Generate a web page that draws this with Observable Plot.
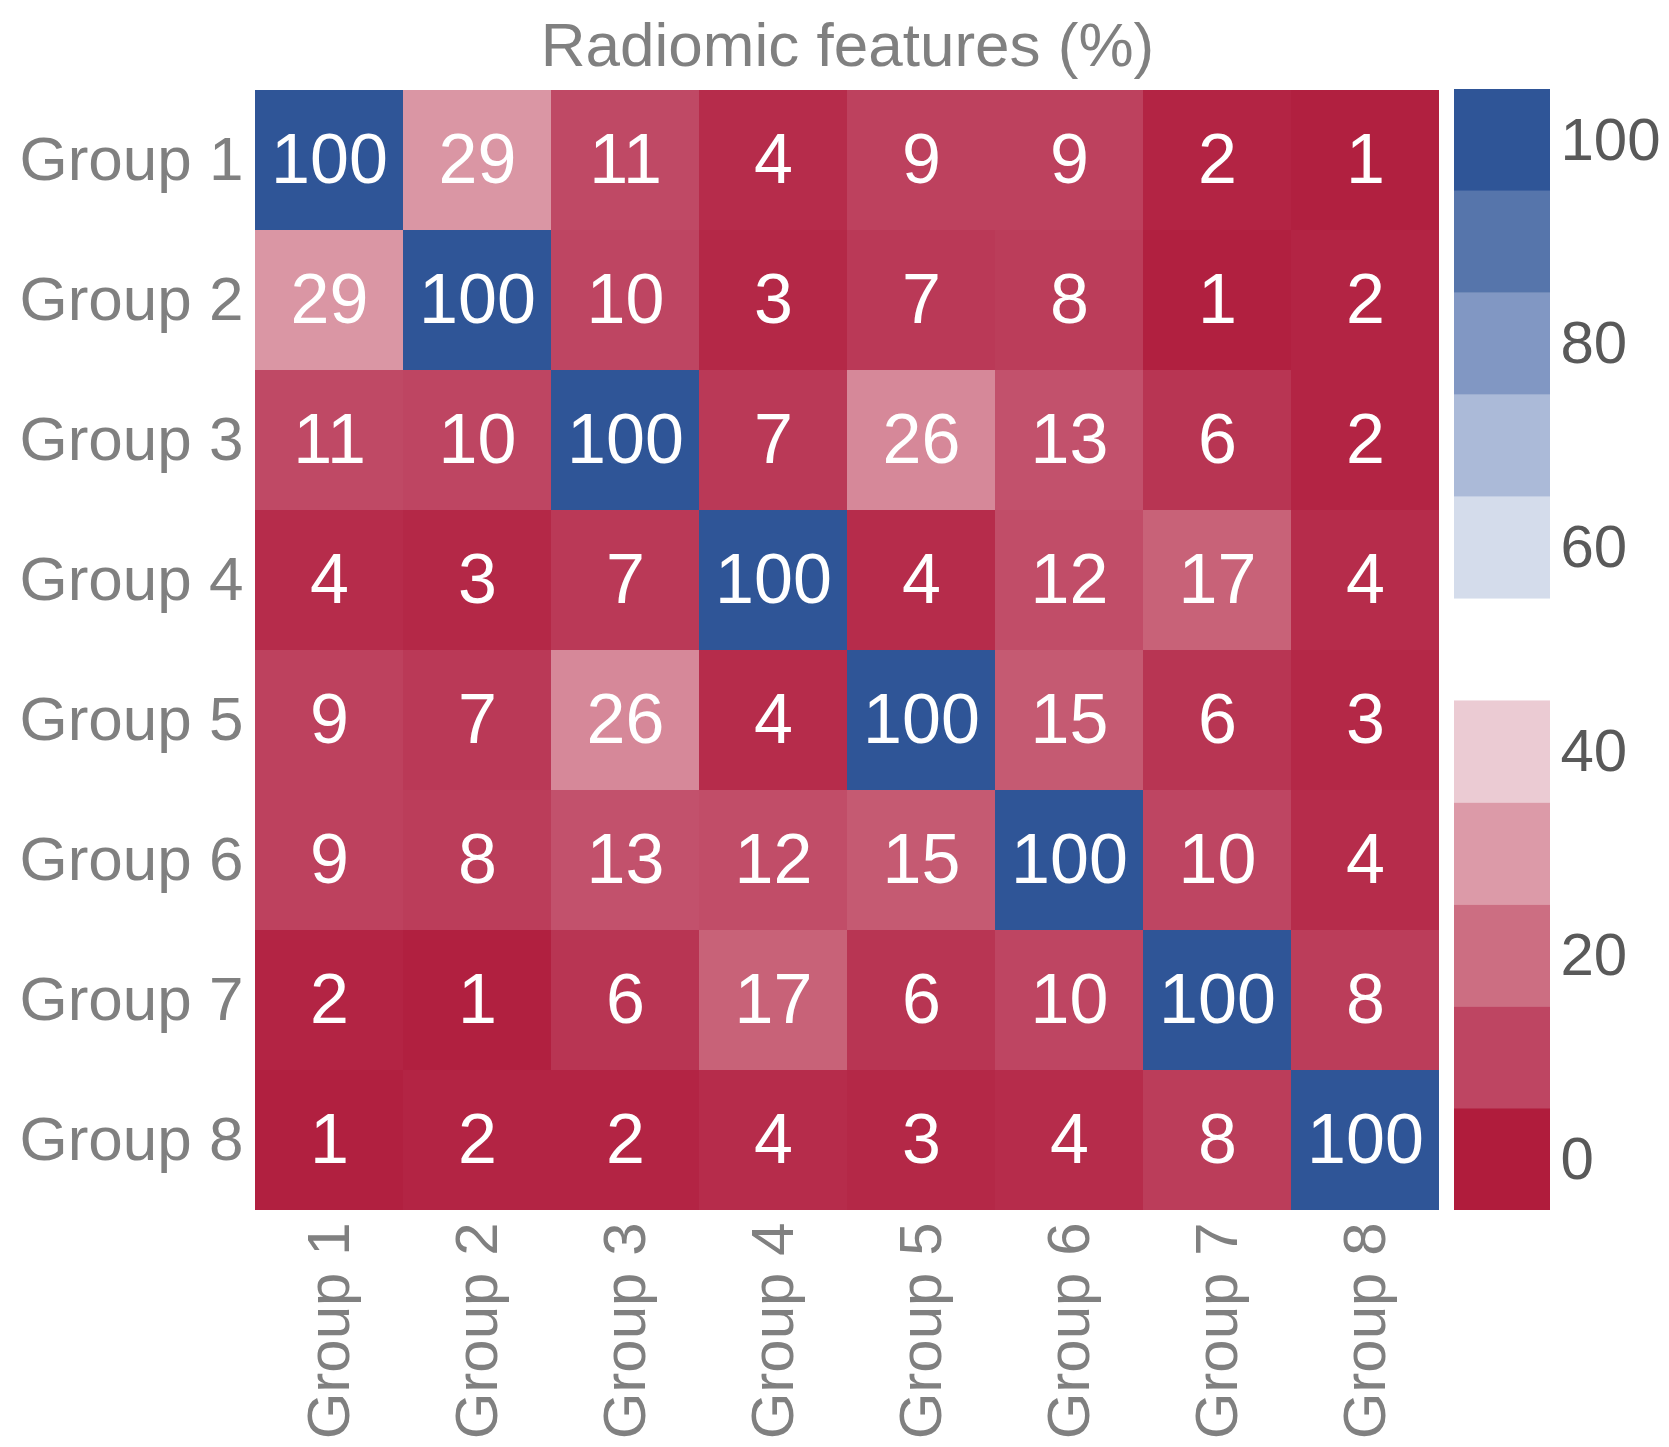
<!DOCTYPE html>
<html>
<head>
<meta charset="utf-8">
<script src="https://cdn.jsdelivr.net/npm/d3@7"></script>
<script src="https://cdn.jsdelivr.net/npm/@observablehq/plot@0.6"></script>
<style>
  html, body { margin: 0; padding: 0; background: #ffffff; }
  #wrap { position: relative; width: 1669px; height: 1447px; overflow: hidden; font-family: "Liberation Sans", Arial, sans-serif; }
  #wrap svg { position: absolute; top: 0; font-family: "Liberation Sans", Arial, sans-serif; }
</style>
</head>
<body>
<div id="wrap"></div>
<script>
// ---- data ----
const title = "Radiomic features (%)";
const groups = ["Group 1", "Group 2", "Group 3", "Group 4", "Group 5", "Group 6", "Group 7", "Group 8"];
const values = [
  [100, 29, 11, 4, 9, 9, 2, 1],
  [29, 100, 10, 3, 7, 8, 1, 2],
  [11, 10, 100, 7, 26, 13, 6, 2],
  [4, 3, 7, 100, 4, 12, 17, 4],
  [9, 7, 26, 4, 100, 15, 6, 3],
  [9, 8, 13, 12, 15, 100, 10, 4],
  [2, 1, 6, 17, 6, 10, 100, 8],
  [1, 2, 2, 4, 3, 4, 8, 100]
];
const colorStops = [0, 10, 20, 30, 40, 50, 60, 70, 80, 90, 100];
const colorRange = ["#b01c3c", "#be4562", "#cc6e82", "#dc9aa8", "#ebcbd3", "#ffffff",
                    "#d4dceb", "#abbad8", "#8197c3", "#5675ab", "#2f5597"];
const legendBins = [0, 10, 20, 30, 40, 60, 70, 80, 90, 100];
const legendTicks = [0, 20, 40, 60, 80, 100];

// ---- build table ----
const table = [];
values.forEach((row, i) => row.forEach((v, j) => table.push({row: groups[i], col: groups[j], value: v})));

const colorScale = {type: "linear", domain: colorStops, range: colorRange, interpolate: "rgb"};
const FONT = "Liberation Sans, Arial, sans-serif";

const main = Plot.plot({
  width: 1440,
  height: 1447,
  marginLeft: 255,
  marginRight: 1,
  marginTop: 89,
  marginBottom: 237,
  style: {fontFamily: FONT, background: "white"},
  x: {domain: groups, padding: 0, label: null},
  y: {domain: groups, padding: 0, label: null},
  color: colorScale,
  marks: [
    Plot.cell(table, {x: "col", y: "row", fill: "value", inset: 0}),
    Plot.text(table, {x: "col", y: "row", text: d => String(d.value), fill: "white", fontSize: 70}),
    Plot.axisX({anchor: "bottom", tickSize: 0, tickPadding: 12, tickRotate: -90, fontSize: 60, fill: "#808080", label: null}),
    Plot.axisY({anchor: "left", tickSize: 0, tickPadding: 12, fontSize: 62, fill: "#808080", label: null}),
    Plot.text([title], {text: d => d, frameAnchor: "top", lineAnchor: "bottom", dy: -24, fontSize: 62, fill: "#808080"})
  ]
});
main.style.left = "0px";

const bar = Plot.plot({
  width: 229,
  height: 1447,
  marginLeft: 14,
  marginRight: 119,
  marginTop: 89,
  marginBottom: 237,
  style: {fontFamily: FONT, background: "white"},
  x: {domain: [0, 1], axis: null},
  y: {domain: [-5, 105], label: null},
  color: colorScale,
  marks: [
    Plot.rect(legendBins, {x1: 0, x2: 1, y1: d => d - 5, y2: d => d + 5, fill: d => d, inset: 0}),
    Plot.axisY({anchor: "right", ticks: legendTicks, tickSize: 0, tickPadding: 10, fontSize: 60, fill: "#595959", label: null})
  ]
});
bar.style.left = "1440px";

const wrap = document.getElementById("wrap");
wrap.appendChild(main);
wrap.appendChild(bar);
</script>
</body>
</html>
